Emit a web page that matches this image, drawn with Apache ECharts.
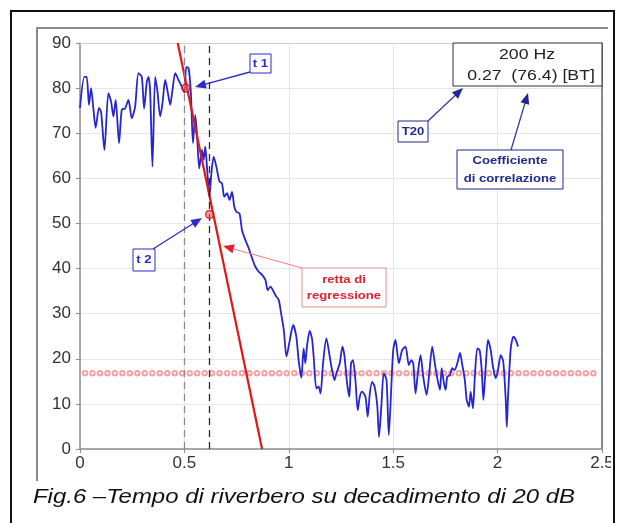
<!DOCTYPE html>
<html>
<head>
<meta charset="utf-8">
<script src="https://cdn.jsdelivr.net/npm/echarts@6/dist/echarts.min.js"></script>
<style>
  html, body { margin: 0; padding: 0; background: #fff; }
  #chart { width: 617px; height: 523px; }
</style>
</head>
<body>
<div id="chart"></div>
<script>
// Sound level decay [time s, level dB]: flat part before t1
const earlyDecay = [
  [0.000,75.6],[0.021,82.5],[0.032,82.5],[0.043,76.3],[0.053,80],[0.064,75.5],[0.075,71.2],
  [0.091,75.6],[0.101,74.7],[0.117,66.3],[0.136,78.9],[0.149,77],[0.160,73.7],[0.171,77.4],
  [0.187,67.8],[0.200,75.2],[0.216,75.5],[0.232,77.4],[0.248,73.3],[0.264,75.9],[0.280,83.3],
  [0.296,82.5],[0.307,75.5],[0.320,81.4],[0.328,82.5],[0.336,79.2],[0.347,62.6],[0.360,82.5],
  [0.371,79.2],[0.384,73.7],[0.395,76.6],[0.408,81.8],[0.421,78.9],[0.432,76.3],[0.443,79.6],
  [0.456,83.3],[0.472,81.8],[0.488,80.3],[0.500,79]
];
// Decaying slope
const slopeDecay = [
  [0.509,84.7],[0.520,84.4],[0.531,78.9],[0.541,67.8],[0.552,74],[0.560,70],[0.571,62.2],
  [0.584,66.3],[0.592,64.1],[0.600,67],[0.608,62.6],[0.620,56],[0.629,61],[0.640,64.8],
  [0.653,62.6],[0.668,59.3],[0.680,58.9],[0.691,55.9],[0.704,56.7],[0.716,55.2],[0.728,57],
  [0.739,53.7],[0.749,52.6],[0.764,52.2],[0.776,48.5],[0.792,46.3],[0.808,44.5],[0.824,42.3],
  [0.840,40.4],[0.856,39.3],[0.872,38.6],[0.888,37.5],[0.899,35.2],[0.912,36],[0.924,35.2],
  [0.936,34.1],[0.952,33],[0.963,30.1],[0.976,26.4],[0.989,20.5]
];
// Background noise tail
const noiseTail = [
  [1.005,24.2],[1.021,27.5],[1.036,24.9],[1.047,19.7],[1.060,15.8],[1.071,22.3],[1.079,19],
  [1.087,22.7],[1.100,26.2],[1.111,24.5],[1.119,20.5],[1.132,13.4],[1.143,13.8],[1.152,12.3],
  [1.164,19],[1.180,24.5],[1.196,20.5],[1.207,17.5],[1.219,15.3],[1.228,16.8],[1.244,19],
  [1.257,22.7],[1.267,20.5],[1.279,14.6],[1.290,11.6],[1.298,19],[1.307,19.7],[1.319,15.3],
  [1.330,8.6],[1.340,11.6],[1.351,12.7],[1.367,11.6],[1.378,7.2],[1.388,12.3],[1.399,14.9],
  [1.411,13.8],[1.424,9.4],[1.432,2.7],[1.443,9.4],[1.455,16.8],[1.468,15.3],[1.479,3.1],
  [1.491,13.8],[1.500,21.9],[1.511,24.2],[1.527,19],[1.543,21.9],[1.559,22.7],[1.575,18.6],
  [1.587,19.7],[1.596,19],[1.607,12.3],[1.618,16.8],[1.631,20.8],[1.644,16],[1.660,12],
  [1.671,16],[1.687,22.7],[1.698,19.4],[1.711,15.7],[1.724,13.1],[1.732,17.9],[1.743,14.6],
  [1.751,13.1],[1.759,16],[1.772,16.4],[1.783,17.9],[1.794,17.5],[1.807,19],[1.820,21.3],
  [1.831,18.6],[1.843,15.3],[1.852,10.9],[1.863,9.4],[1.871,12.7],[1.882,9],[1.891,16],
  [1.903,22.3],[1.914,21.9],[1.924,17.5],[1.932,10.9],[1.943,18.2],[1.954,24.2],[1.967,21.9],
  [1.978,18.2],[1.991,15.7],[2.002,17.5],[2.015,20.8],[2.027,19.4],[2.039,10.9],[2.044,4.9],
  [2.050,11.6],[2.063,22.3],[2.076,24.9],[2.087,24.2],[2.098,22.7]
];

// Regression line end points and the t1 / t2 evaluation points
const regressionLine = [[0.468, 90], [0.872, 0]];
const evalPoints = [[0.507, 80], [0.621, 52]];
const guideTimes = [0.5, 0.616];

// Background noise level
const noiseFloor = 16.8;

// Axis ranges
const xTicks = { min: 0, max: 2.5, step: 0.5 };
const yTicks = { min: 0, max: 90, step: 10 };

// Text
const infoLines = ['200 Hz', '0.27  (76.4) [BT]'];
const caption = 'Fig.6 \u2013Tempo di riverbero su decadimento di 20 dB';

const decay = earlyDecay.concat(slopeDecay, noiseTail);

// ring markers along the noise floor, evenly spaced
const ringStart = 0.024, ringStep = 0.0358, ringCount = 69;
const noiseFloorRings = [];
for (let i = 0; i < ringCount; i++) noiseFloorRings.push([ringStart + i * ringStep, noiseFloor]);

const chart = echarts.init(document.getElementById('chart'), null, { renderer: 'canvas' });

const FONT = '"Liberation Sans", Arial, sans-serif';
const STRETCH = 1.14;

function arrow(x1, y1, x2, y2, headColor, lineColor, w) {
  const dx = x2 - x1, dy = y2 - y1, L = Math.hypot(dx, dy);
  const ux = dx / L, uy = dy / L, hl = 11, hw = 4.5;
  const bx = x2 - ux * hl, by = y2 - uy * hl;
  return [
    { type: 'line', z: 60, shape: { x1: x1, y1: y1, x2: bx + ux * 2, y2: by + uy * 2 },
      style: { stroke: lineColor, lineWidth: w } },
    { type: 'polygon', z: 61, shape: { points: [[x2, y2], [bx - uy * hw, by + ux * hw], [bx + uy * hw, by - ux * hw]] },
      style: { fill: headColor } }
  ];
}
function box(x, y, w, h, stroke) {
  return { type: 'rect', z: 62, shape: { x: x, y: y, width: w, height: h },
    style: { fill: '#fff', stroke: stroke, lineWidth: 1 } };
}
function label(text, x, y, color, size, weight, extra) {
  return Object.assign({ type: 'text', z: 63, x: x, y: y, scaleX: STRETCH,
    style: { text: text, x: 0, y: 0, fill: color, fontSize: size, fontWeight: weight || 'normal',
      fontFamily: FONT, align: 'center', verticalAlign: 'middle' } }, extra || {});
}

const blue = '#2b2bd0', navy = '#1f2a8c', red = '#e3202a';

const graphics = [].concat(
  // outer frames
  [{ type: 'polyline', z: 40, shape: { points: [[37, 481], [37, 28], [608, 28]] },
     style: { stroke: '#8a8a8a', lineWidth: 2, fill: null } },
   { type: 'rect', z: 70, shape: { x: 611, y: 0, width: 12, height: 523 }, style: { fill: '#fff' } },
   { type: 'rect', z: 71, shape: { x: 11, y: 11, width: 603, height: 540 },
     style: { fill: null, stroke: '#111', lineWidth: 2 } }],
  // info box
  [box(453, 43, 149, 43, '#333'),
   label(infoLines[0], 527, 55, '#222', 15.5),
   label(infoLines[1], 531, 76, '#222', 15.5)],
  // t1
  arrow(250, 72, 195, 87, blue, blue, 1.3),
  [box(250, 54, 21, 19, blue), label('t 1', 260.5, 63.5, blue, 11.5, 'bold')],
  // t2
  arrow(153, 249, 202, 218, blue, blue, 1.3),
  [box(133, 249, 22, 22, blue), label('t 2', 144, 260, blue, 11.5, 'bold')],
  // T20
  arrow(428, 121, 463, 88, navy, '#3b3b9a', 1.3),
  [box(398, 121, 30, 21, navy), label('T20', 413, 131.5, navy, 11.5, 'bold')],
  // correlation coefficient
  arrow(511, 150, 528, 93, navy, '#3b3b9a', 1.3),
  [box(457, 150, 106, 39, navy),
   label('Coefficiente', 510, 161, navy, 11.5, 'bold'),
   label('di correlazione', 510, 179, navy, 11.5, 'bold')],
  // regression line callout
  arrow(302, 268, 223, 246, red, '#f07a7a', 1),
  [box(302, 268, 84, 39, '#f08a8a'),
   label('retta di', 344, 280, red, 11.5, 'bold'),
   label('regressione', 344, 296, red, 11.5, 'bold')],
  // caption
  [{ type: 'text', z: 63, x: 33, y: 497, scaleX: STRETCH,
     style: { text: caption, x: 0, y: 0, fill: '#111', fontSize: 21, fontStyle: 'italic',
       fontFamily: FONT, align: 'left', verticalAlign: 'middle' } }]
);

const axisGray = '#8e8e8e';
chart.setOption({
  animation: false,
  backgroundColor: '#fff',
  grid: { left: 80, right: 15, top: 43, bottom: 74, containLabel: false, outerBoundsMode: 'none' },
  xAxis: [
    { type: 'value', min: xTicks.min, max: xTicks.max, interval: xTicks.step,
      axisLine: { show: true, onZero: false, lineStyle: { color: axisGray, width: 1.5 } },
      axisTick: { show: true, length: 4, lineStyle: { color: axisGray } },
      axisLabel: { color: '#333', fontFamily: FONT, fontSize: 17, margin: 6 },
      splitLine: { show: true, lineStyle: { color: '#e6e6e6', width: 1 } } },
    { type: 'value', position: 'top', min: xTicks.min, max: xTicks.max, interval: xTicks.step,
      axisLine: { show: true, onZero: false, lineStyle: { color: '#cfcfcf', width: 1 } },
      axisTick: { show: false }, axisLabel: { show: false }, splitLine: { show: false } }
  ],
  yAxis: [
    { type: 'value', min: yTicks.min, max: yTicks.max, interval: yTicks.step,
      axisLine: { show: true, onZero: false, lineStyle: { color: axisGray, width: 1.5 } },
      axisTick: { show: true, length: 4, lineStyle: { color: axisGray } },
      axisLabel: { color: '#333', fontFamily: FONT, fontSize: 17, margin: 9 },
      splitLine: { show: true, lineStyle: { color: '#e6e6e6', width: 1 } } },
    { type: 'value', position: 'right', min: yTicks.min, max: yTicks.max, interval: yTicks.step,
      axisLine: { show: true, onZero: false, lineStyle: { color: '#666', width: 1.5 } },
      axisTick: { show: false }, axisLabel: { show: false }, splitLine: { show: false } }
  ],
  series: [
    { type: 'line', name: 'fondo', data: noiseFloorRings, z: 2, silent: true,
      symbol: 'emptyCircle', symbolSize: 4.5, showAllSymbol: true,
      lineStyle: { opacity: 0 }, itemStyle: { color: '#f3a3a3', borderWidth: 1 },
      markLine: { silent: true, symbol: ['none', 'none'], label: { show: false },
        lineStyle: { type: [7, 5], width: 1.3 },
        data: [
          { xAxis: guideTimes[0], lineStyle: { color: '#8a8a8a' } },
          { xAxis: guideTimes[1], lineStyle: { color: '#2a2a2a' } }
        ] } },
    { type: 'line', name: 'decadimento', data: decay, z: 3, silent: true,
      symbol: 'none', smooth: 0.25, lineStyle: { color: '#2525d6', width: 1.8 } },
    { type: 'line', name: 'regressione', data: regressionLine, z: 4, silent: true,
      symbol: 'none', lineStyle: { color: '#e01818', width: 2.2 } },
    { type: 'scatter', name: 't1 t2', data: evalPoints, z: 5, silent: true,
      symbol: 'circle', symbolSize: 8,
      itemStyle: { color: 'rgba(240,90,90,0.7)', borderColor: '#d81010', borderWidth: 1.5 } }
  ],
  graphic: graphics
});
</script>
</body>
</html>
